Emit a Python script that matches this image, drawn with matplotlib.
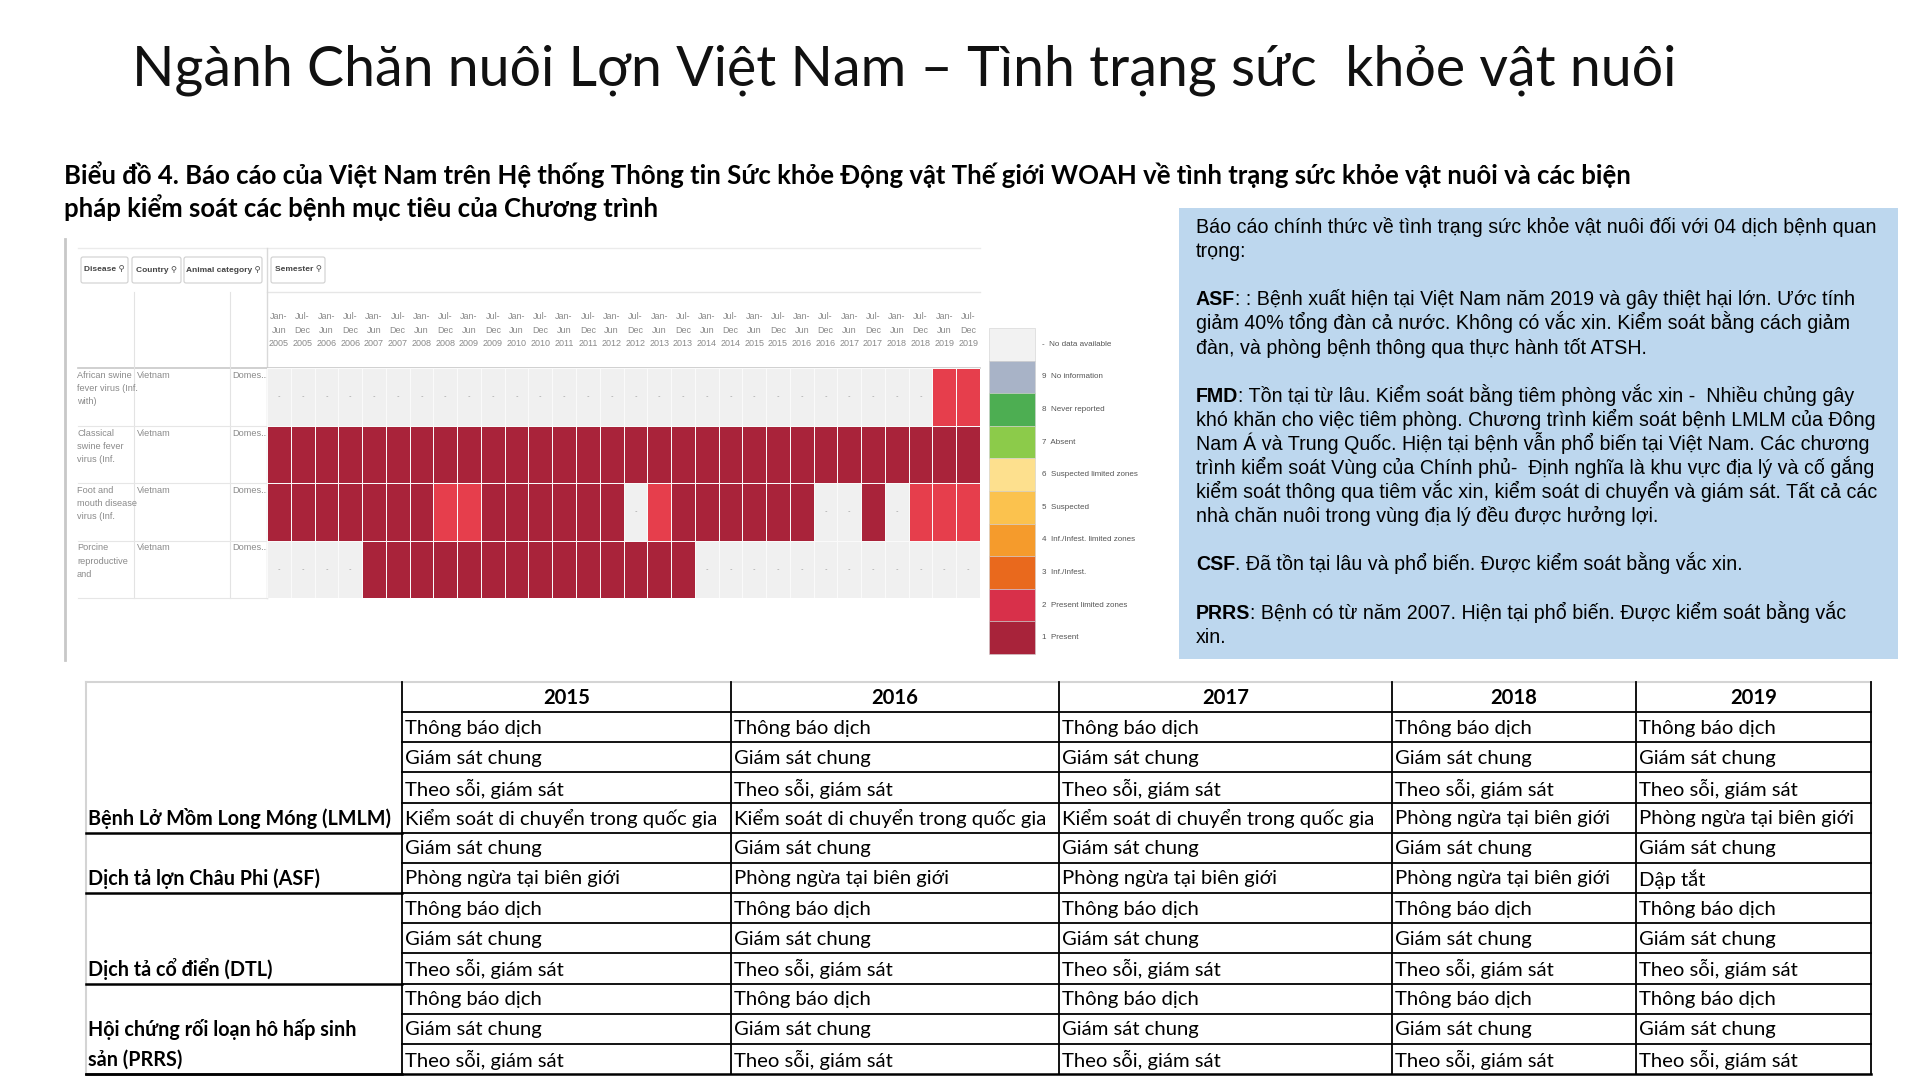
import numpy as np
import matplotlib.pyplot as plt
from matplotlib.colors import ListedColormap
from matplotlib.patches import Rectangle, FancyBboxPatch

W, H = 1920, 1080

TITLE = 'Ngành Chăn nuôi Lợn Việt Nam – Tình trạng sức  khỏe vật nuôi'
SUBTITLE = ['Biểu đồ 4. Báo cáo của Việt Nam trên Hệ thống Thông tin Sức khỏe Động vật Thế giới WOAH '
            'về tình trạng sức khỏe vật nuôi và các biện',
            'pháp kiểm soát các bệnh mục tiêu của Chương trình']

# WAHIS status by semester, Jan-Jun 2005 .. Jul-Dec 2019
# 0 = no data, 1 = present, 2 = present in limited zones
hm_years = [2005, 2006, 2007, 2008, 2009, 2010, 2011, 2012, 2013, 2014, 2015, 2016, 2017, 2018, 2019]
hm_diseases = ['African swine\nfever virus (Inf.\nwith)', 'Classical\nswine fever\nvirus (Inf.',
               'Foot and\nmouth disease\nvirus (Inf.', 'Porcine\nreproductive\nand']
hm_country = 'Vietnam'
hm_animal = 'Domes...'
status_asf = [0, 0, 0, 0, 0, 0, 0, 0, 0, 0, 0, 0, 0, 0, 0, 0, 0, 0, 0, 0, 0, 0, 0, 0, 0, 0, 0, 0, 2, 2]
status_csf = [1, 1, 1, 1, 1, 1, 1, 1, 1, 1, 1, 1, 1, 1, 1, 1, 1, 1, 1, 1, 1, 1, 1, 1, 1, 1, 1, 1, 1, 1]
status_fmd = [1, 1, 1, 1, 1, 1, 1, 2, 2, 1, 1, 1, 1, 1, 1, 0, 2, 1, 1, 1, 1, 1, 1, 0, 0, 1, 0, 2, 2, 2]
status_prrs = [0, 0, 0, 0, 1, 1, 1, 1, 1, 1, 1, 1, 1, 1, 1, 1, 1, 1, 0, 0, 0, 0, 0, 0, 0, 0, 0, 0, 0, 0]
status_colors = ['#F0F0F0', '#A9233A', '#E63E4C']

legend_labels = ['-  No data available', '9  No information', '8  Never reported', '7  Absent',
                 '6  Suspected limited zones', '5  Suspected', '4  Inf./Infest. limited zones',
                 '3  Inf./Infest.', '2  Present limited zones', '1  Present']
legend_colors = ['#F2F2F2', '#A8B3C7', '#4DAE52', '#8CCB4A', '#FDE08E', '#FBC24E', '#F59B2C',
                 '#E9691D', '#D8304A', '#A8233A']

# (bold lead, rest) per line; None = empty line
box_lines = [
    ('', 'Báo cáo chính thức về tình trạng sức khỏe vật nuôi đối với 04 dịch bệnh quan'),
    ('', 'trọng:'),
    None,
    ('ASF', ': : Bệnh xuất hiện tại Việt Nam năm 2019 và gây thiệt hại lớn. Ước tính'),
    ('', 'giảm 40% tổng đàn cả nước. Không có vắc xin. Kiểm soát bằng cách giảm'),
    ('', 'đàn, và phòng bệnh thông qua thực hành tốt ATSH.'),
    None,
    ('FMD', ': Tồn tại từ lâu. Kiểm soát bằng tiêm phòng vắc xin -  Nhiều chủng gây'),
    ('', 'khó khăn cho việc tiêm phòng. Chương trình kiểm soát bệnh LMLM của Đông'),
    ('', 'Nam Á và Trung Quốc. Hiện tại bệnh vẫn phổ biến tại Việt Nam. Các chương'),
    ('', 'trình kiểm soát Vùng của Chính phủ-  Định nghĩa là khu vực địa lý và cố gắng'),
    ('', 'kiểm soát thông qua tiêm vắc xin, kiểm soát di chuyển và giám sát. Tất cả các'),
    ('', 'nhà chăn nuôi trong vùng địa lý đều được hưởng lợi.'),
    None,
    ('CSF', '. Đã tồn tại lâu và phổ biến. Được kiểm soát bằng vắc xin.'),
    None,
    ('PRRS', ': Bệnh có từ năm 2007. Hiện tại phổ biến. Được kiểm soát bằng vắc'),
    ('', 'xin.'),
]

tbl_years = ['2015', '2016', '2017', '2018', '2019']
tbl_diseases = ['Bệnh Lở Mồm Long Móng (LMLM)', 'Dịch tả lợn Châu Phi (ASF)', 'Dịch tả cổ điển (DTL)',
                'Hội chứng rối loạn hô hấp sinh\nsản (PRRS)']
tbl_group_rows = [4, 2, 3, 3]
m2015 = ['Thông báo dịch', 'Giám sát chung', 'Theo sỗi, giám sát', 'Kiểm soát di chuyển trong quốc gia',
         'Giám sát chung', 'Phòng ngừa tại biên giới',
         'Thông báo dịch', 'Giám sát chung', 'Theo sỗi, giám sát',
         'Thông báo dịch', 'Giám sát chung', 'Theo sỗi, giám sát']
m2016 = ['Thông báo dịch', 'Giám sát chung', 'Theo sỗi, giám sát', 'Kiểm soát di chuyển trong quốc gia',
         'Giám sát chung', 'Phòng ngừa tại biên giới',
         'Thông báo dịch', 'Giám sát chung', 'Theo sỗi, giám sát',
         'Thông báo dịch', 'Giám sát chung', 'Theo sỗi, giám sát']
m2017 = ['Thông báo dịch', 'Giám sát chung', 'Theo sỗi, giám sát', 'Kiểm soát di chuyển trong quốc gia',
         'Giám sát chung', 'Phòng ngừa tại biên giới',
         'Thông báo dịch', 'Giám sát chung', 'Theo sỗi, giám sát',
         'Thông báo dịch', 'Giám sát chung', 'Theo sỗi, giám sát']
m2018 = ['Thông báo dịch', 'Giám sát chung', 'Theo sỗi, giám sát', 'Phòng ngừa tại biên giới',
         'Giám sát chung', 'Phòng ngừa tại biên giới',
         'Thông báo dịch', 'Giám sát chung', 'Theo sỗi, giám sát',
         'Thông báo dịch', 'Giám sát chung', 'Theo sỗi, giám sát']
m2019 = ['Thông báo dịch', 'Giám sát chung', 'Theo sỗi, giám sát', 'Phòng ngừa tại biên giới',
         'Giám sát chung', 'Dập tắt',
         'Thông báo dịch', 'Giám sát chung', 'Theo sỗi, giám sát',
         'Thông báo dịch', 'Giám sát chung', 'Theo sỗi, giám sát']
tbl_measures = [m2015, m2016, m2017, m2018, m2019]

plt.rcParams['font.family'] = ['Lato', 'DejaVu Sans']
NARROW = ['Liberation Sans Narrow', 'Liberation Sans', 'DejaVu Sans']

fig = plt.figure(figsize=(19.2, 10.8), dpi=100)
ax = fig.add_axes([0, 0, 1, 1])
ax.set_xlim(0, W)
ax.set_ylim(H, 0)
ax.axis('off')

# titles
ax.text(132, 70, TITLE, fontsize=40, fontweight='normal', va='center', ha='left', color='#111111')
ax.text(64, 175, SUBTITLE[0], fontsize=18.5, fontweight='bold', va='center')
ax.text(64, 208, SUBTITLE[1], fontsize=18.5, fontweight='bold', va='center')

# ---- screenshot of the WAHIS dashboard ----
ax.plot([65, 65], [239, 660], color='#C8C8C8', lw=2)
ax.plot([78, 980], [248, 248], color='#EBEBEB', lw=1)
ax.plot([267, 980], [292, 292], color='#E6E6E6', lw=1)
ax.plot([267, 267], [248, 598], color='#D9D9D9', lw=1)
ax.plot([78, 980], [368, 368], color='#C8C8C8', lw=1.2)
for xv in [134, 230]:
    ax.plot([xv, xv], [292, 598], color='#E3E3E3', lw=0.8)

for (bx0, bx1, lab) in [(81, 128, 'Disease ⚲'), (132, 181, 'Country ⚲'),
                        (184, 262, 'Animal category ⚲'), (271, 325, 'Semester ⚲')]:
    ax.add_patch(FancyBboxPatch((bx0, 257), bx1 - bx0, 26, boxstyle='round,pad=0,rounding_size=2',
                                fc='white', ec='#CFCFCF', lw=0.8))
    ax.text((bx0 + bx1) / 2, 270, lab, fontsize=6, fontweight='bold', ha='center', va='center',
            color='#444444', family=NARROW)

HM_X0, HM_X1, HM_Y0, HM_Y1 = 267, 980, 368, 598
row_h = (HM_Y1 - HM_Y0) / len(hm_diseases)
for i, name in enumerate(hm_diseases):
    top = HM_Y0 + i * row_h
    ax.text(77, top + 3, name, fontsize=6.6, color='#8A8A8A', va='top', linespacing=1.6, family=NARROW)
    ax.text(137, top + 3, hm_country, fontsize=6.6, color='#8A8A8A', va='top', family=NARROW)
    ax.text(232, top + 3, hm_animal, fontsize=6.6, color='#8A8A8A', va='top', family=NARROW)
    ax.plot([78, 267], [top + row_h, top + row_h], color='#E6E6E6', lw=0.8)

hm = fig.add_axes([HM_X0 / W, 1 - HM_Y1 / H, (HM_X1 - HM_X0) / W, (HM_Y1 - HM_Y0) / H])
grid = np.array([status_asf, status_csf, status_fmd, status_prrs])
hm.pcolormesh(grid, cmap=ListedColormap(status_colors), vmin=-0.5, vmax=2.5,
              edgecolors='#FAFAFA', linewidth=0.7)
hm.set_xlim(0, grid.shape[1])
hm.set_ylim(grid.shape[0], 0)
hm.axis('off')
for i, j in zip(*np.nonzero(grid == 0)):
    hm.text(j + 0.5, i + 0.5, '-', ha='center', va='center', fontsize=5, color='#9A9A9A')
semesters = []
for y in hm_years:
    semesters.append(f'Jan-\nJun\n{y}')
    semesters.append(f'Jul-\nDec\n{y}')
for j, lab in enumerate(semesters):
    hm.text(j + 0.5, -0.66, lab, ha='center', va='center', fontsize=6.5, color='#8A8A8A',
            linespacing=1.7, clip_on=False, family=NARROW)

# legend of status colours
LG_X, LG_Y, LG_W, LG_H = 989, 328, 46, 32.6
for k, (lab, col) in enumerate(zip(legend_labels, legend_colors)):
    ax.add_patch(Rectangle((LG_X, LG_Y + k * LG_H), LG_W, LG_H, fc=col, ec='#D0D0D0', lw=0.4))
    ax.text(LG_X + LG_W + 7, LG_Y + (k + 0.5) * LG_H, lab, fontsize=5.8, color='#555555',
            va='center', family=NARROW)

# ---- blue notes box ----
ax.add_patch(Rectangle((1179, 208), 1898 - 1179, 659 - 208, fc='#BDD7EE', ec='none'))
BX, BY, BSTEP = 1196, 228, 24.1
BFS = 14.1
for k, line in enumerate(box_lines):
    if line is None:
        continue
    lead, rest = line
    y = BY + k * BSTEP
    if lead:
        t = ax.text(BX, y + 9, lead, fontsize=BFS, fontweight='bold', va='bottom', family=NARROW)
        ax.annotate(rest, xy=(1, 0), xycoords=t, va='bottom', ha='left', fontsize=BFS, family=NARROW)
    else:
        ax.text(BX, y + 9, rest, fontsize=BFS, va='bottom', family=NARROW)

# ---- measures table ----
TX = [86, 402, 731, 1059, 1392, 1636, 1871]
TY0, RH = 682, 30.15
n_rows = sum(tbl_group_rows)
TY1 = TY0 + RH * (n_rows + 1)
FS = 14.6

ax.plot([TX[0], TX[-1]], [TY0, TY0], color='#D4D4D4', lw=1.5)
ax.plot([TX[0], TX[0]], [TY0, TY1], color='#D4D4D4', lw=1.5)
for xv in TX[1:]:
    ax.plot([xv, xv], [TY0, TY1], color='black', lw=1.3)
for r in range(1, n_rows + 1):
    yv = TY0 + RH * r
    ax.plot([TX[1], TX[-1]], [yv, yv], color='black', lw=1.3)
ax.plot([TX[0], TX[-1]], [TY1, TY1], color='black', lw=1.8)

for c, yr in enumerate(tbl_years):
    ax.text((TX[c + 1] + TX[c + 2]) / 2, TY0 + RH * 0.5 + 1, yr, fontsize=FS, fontweight='bold',
            ha='center', va='center')
    for r, txt in enumerate(tbl_measures[c]):
        ax.text(TX[c + 1] + 3, TY0 + RH * (r + 1.5) + 1, txt, fontsize=FS, ha='left', va='center')

row = 0
for name, n in zip(tbl_diseases, tbl_group_rows):
    parts = name.split('\n')
    last = row + n - 1
    for p, part in enumerate(parts):
        r = last - (len(parts) - 1 - p)
        ax.text(TX[0] + 2, TY0 + RH * (r + 1.5) + 1, part, fontsize=14.2, fontweight='bold',
                ha='left', va='center')
    row += n
    yv = TY0 + RH * (row + 1)
    ax.plot([TX[0], TX[1]], [yv, yv], color='black', lw=1.8)

fig.savefig('out.png', dpi=100, facecolor='white')
